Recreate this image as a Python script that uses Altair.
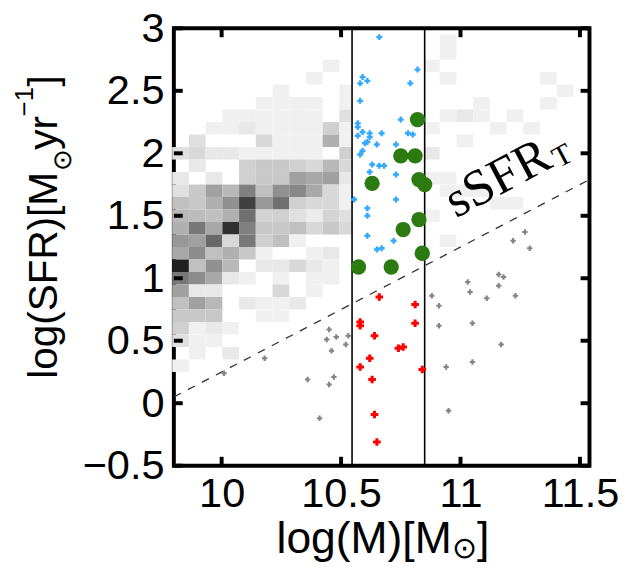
import altair as alt
import pandas as pd

# ---------------- data ----------------
blue_x = [10.66, 10.82, 10.59, 10.58, 10.61, 10.79, 10.58, 10.75, 10.57, 10.57, 10.59, 10.57,
          10.62, 10.62, 10.67, 10.78, 10.80, 10.60, 10.61, 10.59, 10.58, 10.65, 10.73, 10.63,
          10.66, 10.68, 10.62, 10.73, 10.555, 10.61, 10.73, 10.61, 10.61, 10.72, 10.65, 10.67]
blue_y = [2.93, 2.67, 2.61, 2.56, 2.58, 2.56, 2.42, 2.27, 2.24, 2.21, 2.17, 2.14,
          2.16, 2.13, 2.16, 2.16, 2.15, 2.08, 2.09, 2.02, 1.99, 2.07, 2.07, 1.91,
          1.90, 1.90, 1.85, 1.83, 1.63, 1.56, 1.63, 1.50, 1.34, 1.30, 1.23, 1.24]

green_x = [10.82, 10.75, 10.81, 10.63, 10.826, 10.85, 10.826, 10.76, 10.84, 10.573, 10.71]
green_y = [2.27, 1.98, 1.98, 1.76, 1.79, 1.75, 1.47, 1.39, 1.20, 1.09, 1.09]

red_x = [10.66, 10.81, 10.58, 10.58, 10.81, 10.64, 10.74, 10.76, 10.62, 10.58, 10.84, 10.63, 10.64, 10.65]
red_y = [0.85, 0.79, 0.65, 0.62, 0.64, 0.54, 0.44, 0.45, 0.36, 0.29, 0.27, 0.19, -0.09, -0.31]

grey_x = [11.27, 11.22, 11.29, 11.16, 11.18, 11.03, 11.16, 11.04, 11.11, 11.23, 10.88, 10.91,
          10.91, 11.05, 11.17, 11.05, 10.94, 10.95, 10.53, 10.52, 10.48, 10.45, 10.44, 10.46,
          10.18, 10.01, 10.36, 10.47, 10.45, 10.41]
grey_y = [1.37, 1.30, 1.24, 1.03, 1.01, 0.97, 0.94, 0.89, 0.84, 0.86, 0.86, 0.78,
          0.62, 0.64, 0.47, 0.33, 0.29, -0.06, 0.54, 0.47, 0.53, 0.59, 0.51, 0.42,
          0.36, 0.24, 0.19, 0.21, 0.15, -0.12]

# 2-D histogram of the background population (grey level 0=black, 255=empty)
bin_x0, bin_dx = 9.793, 0.07
bin_y0, bin_dy = 0.05, 0.10
heat_top_row = 26
heat_left = [  # columns 0..10, rows from 26 down to 2
    [255, 255, 255, 255, 255, 255, 255, 255, 255, 240, 255],
    [255, 255, 255, 255, 255, 255, 255, 255, 240, 255, 255],
    [255, 255, 255, 255, 255, 255, 240, 255, 255, 255, 240],
    [255, 255, 255, 255, 255, 240, 240, 240, 240, 255, 240],
    [255, 255, 255, 240, 240, 240, 240, 240, 240, 255, 224],
    [255, 255, 240, 240, 232, 240, 240, 240, 240, 208, 240],
    [255, 224, 255, 255, 255, 216, 240, 240, 240, 176, 240],
    [224, 216, 232, 232, 240, 240, 240, 240, 240, 255, 208],
    [255, 232, 255, 255, 208, 200, 200, 208, 216, 184, 216],
    [232, 255, 232, 255, 208, 200, 200, 160, 168, 160, 232],
    [224, 200, 160, 184, 128, 192, 144, 136, 168, 216, 240],
    [192, 200, 176, 144, 64, 152, 112, 208, 216, 216, 240],
    [184, 188, 192, 176, 112, 210, 208, 224, 236, 212, 224],
    [176, 120, 168, 48, 128, 200, 200, 192, 216, 200, 216],
    [152, 160, 104, 216, 120, 208, 192, 240, 255, 255, 255],
    [168, 140, 192, 176, 200, 240, 255, 255, 240, 232, 255],
    [32, 192, 144, 184, 255, 232, 232, 216, 232, 240, 255],
    [120, 140, 168, 232, 240, 255, 240, 255, 240, 240, 255],
    [160, 232, 232, 255, 255, 255, 216, 255, 240, 255, 255],
    [192, 160, 184, 255, 232, 240, 240, 232, 255, 255, 255],
    [200, 200, 200, 255, 255, 240, 240, 255, 255, 255, 255],
    [208, 240, 232, 240, 255, 255, 255, 255, 255, 255, 255],
    [224, 240, 240, 255, 255, 255, 255, 255, 255, 255, 255],
    [255, 240, 255, 232, 255, 255, 255, 255, 255, 255, 255],
    [240, 255, 255, 255, 255, 255, 255, 255, 255, 255, 255],
]
heat_right_col = [16, 16, 15, 16, 22, 23, 22, 18, 16, 17, 18, 20, 15, 19, 21, 17, 15,
                  15, 16, 16, 17, 18, 19, 20, 15, 16]
heat_right_row = [28, 27, 26, 25, 25, 24, 23, 23, 22, 22, 22, 22, 21, 21, 21, 20, 19,
                  17, 17, 16, 16, 16, 15, 15, 14, 12]
heat_right_grey = [240, 240, 240, 240, 240, 240, 240, 240, 240, 232, 240, 240, 240, 240, 240, 240, 232,
                   240, 240, 240, 240, 240, 240, 240, 240, 240]

split_lines = [10.546, 10.85]
thr_x = [9.8, 11.54]
thr_y = [0.05, 1.79]

x_ticks = [10, 10.5, 11, 11.5]
y_ticks = [-0.5, 0, 0.5, 1, 1.5, 2, 2.5, 3]

# ---------------- tables ----------------
cells = []
for i, row in enumerate(heat_left):
    k = heat_top_row - i
    for c, g in enumerate(row):
        if g >= 255:
            continue
        x0 = bin_x0 + c * bin_dx
        x1 = min(x0 + bin_dx, split_lines[0])
        cells.append(dict(x0=x0, x1=x1, y0=bin_y0 + k * bin_dy, y1=bin_y0 + (k + 1) * bin_dy,
                          col="#%02x%02x%02x" % (g, g, g)))
for c, k, g in zip(heat_right_col, heat_right_row, heat_right_grey):
    x0 = max(bin_x0 + c * bin_dx, split_lines[1])
    cells.append(dict(x0=x0, x1=bin_x0 + (c + 1) * bin_dx, y0=bin_y0 + k * bin_dy,
                      y1=bin_y0 + (k + 1) * bin_dy, col="#%02x%02x%02x" % (g, g, g)))
heat_df = pd.DataFrame(cells)

W, H = 421, 443
FONT = "Liberation Sans"

xscale = alt.Scale(domain=[9.8, 11.54], nice=False, zero=False)
yscale = alt.Scale(domain=[-0.5, 3], nice=False, zero=False)
xaxis = alt.Axis(values=x_ticks, format="~g", ticks=False, domain=False, grid=False,
                 labelFontSize=42, labelFont=FONT, labelColor="black", labelPadding=8,
                 labelFlush=False, labelOverlap=False, title=None)
yaxis = alt.Axis(values=y_ticks, format="~g", ticks=False, domain=False, grid=False,
                 labelFontSize=42, labelFont=FONT, labelColor="black", labelPadding=10,
                 labelFlush=False, labelOverlap=False, title=None)


def X(f):
    return alt.X(f, type="quantitative", scale=xscale, axis=xaxis)


def Y(f):
    return alt.Y(f, type="quantitative", scale=yscale, axis=yaxis)


heat = alt.Chart(heat_df).mark_rect(strokeWidth=0).encode(
    x=X("x0"), x2="x1", y=Y("y0"), y2="y1", color=alt.Color("col:N", scale=None))

vlines = alt.Chart(pd.DataFrame({"v": split_lines})).mark_rule(color="black", strokeWidth=1.6).encode(
    x=X("v"))

thr = alt.Chart(pd.DataFrame({"x": thr_x, "y": thr_y})).mark_line(
    color="#333333", strokeWidth=1.3, strokeDash=[8, 8]).encode(x=X("x"), y=Y("y"))

grey_pts = alt.Chart(pd.DataFrame({"x": grey_x, "y": grey_y})).mark_point(
    shape="cross", filled=True, color="#858585", size=30, opacity=1).encode(x=X("x"), y=Y("y"))
red_pts = alt.Chart(pd.DataFrame({"x": red_x, "y": red_y})).mark_point(
    shape="cross", filled=True, color="#ff0000", size=60, opacity=1).encode(x=X("x"), y=Y("y"))
blue_pts = alt.Chart(pd.DataFrame({"x": blue_x, "y": blue_y})).mark_point(
    shape="cross", filled=True, color="#33aaff", size=36, opacity=1).encode(x=X("x"), y=Y("y"))
green_pts = alt.Chart(pd.DataFrame({"x": green_x, "y": green_y})).mark_circle(
    color="#2b7b10", size=240, opacity=1).encode(x=X("x"), y=Y("y"))

lab_df = pd.DataFrame({"x": [11.393], "y": [1.897]})
lab_main = alt.Chart(lab_df).mark_text(
    text="sSFR", font="Liberation Serif", fontSize=52, align="right", baseline="alphabetic",
    angle=332, color="black").encode(x=X("x"), y=Y("y"))
lab_sub = alt.Chart(lab_df).mark_text(
    text="T", font="Liberation Serif", fontSize=30, align="left", baseline="alphabetic",
    angle=332, dx=3, dy=4, color="black").encode(x=X("x"), y=Y("y"))

xt_df = pd.DataFrame({"t": x_ticks})
yt_df = pd.DataFrame({"t": y_ticks})
tk = dict(color="black", strokeWidth=4)
tick_b = alt.Chart(xt_df).mark_rule(**tk).encode(x=X("t"), y=alt.value(H), y2=alt.value(H - 9))
tick_t = alt.Chart(xt_df).mark_rule(**tk).encode(x=X("t"), y=alt.value(0), y2=alt.value(9))
tick_l = alt.Chart(yt_df).mark_rule(**tk).encode(y=Y("t"), x=alt.value(0), x2=alt.value(9))
tick_r = alt.Chart(yt_df).mark_rule(**tk).encode(y=Y("t"), x=alt.value(W), x2=alt.value(W - 9))

# axis titles with sub/superscripts, built from text pieces (pixel offsets from plot origin)
one = pd.DataFrame({"a": [0]})


def piece(txt, px, py, size, angle=0):
    kw = dict(text=txt, font=FONT, fontSize=size, align="left", baseline="alphabetic",
              color="black")
    if angle:
        kw["angle"] = angle
    return alt.Chart(one).mark_text(**kw).encode(x=alt.value(px), y=alt.value(py))


xtitle = [
    piece("log(M)[M", 104, 531, 45),
    piece("⊙", 282, 536, 30),
    piece("]", 307, 531, 45),
]
ytitle = [
    piece("log(SFR)[M", -118, 355, 41, 270),
    piece("⊙", -104, 145, 26, 270),
    piece("yr", -118, 123, 41, 270),
    piece("−1", -143, 89, 26, 270),
    piece("]", -118, 59, 41, 270),
]

chart = alt.layer(
    heat, vlines, thr, grey_pts, red_pts, blue_pts, green_pts, lab_main, lab_sub,
    tick_b, tick_t, tick_l, tick_r, *xtitle, *ytitle
).properties(
    width=W, height=H,
    autosize=alt.AutoSizeParams(type="none"),
    padding={"left": 168, "top": 17, "right": 38, "bottom": 98},
    background="white",
).configure_view(stroke="black", strokeWidth=4)

chart.save("out.html", embed_options={"renderer": "svg", "actions": False})
